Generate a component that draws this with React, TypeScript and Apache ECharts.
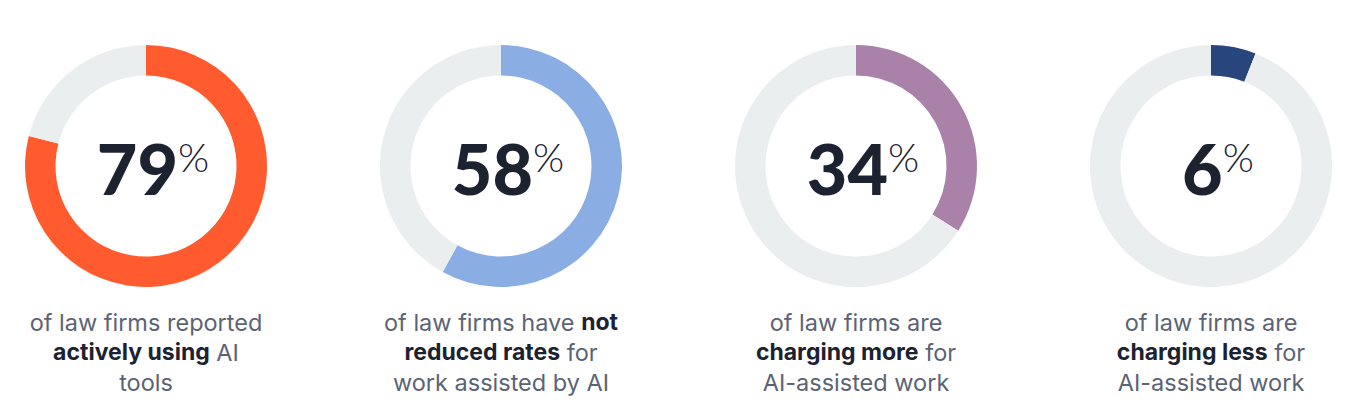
import React, { useEffect, useRef } from "react";
import * as echarts from "echarts";

const values = [79, 58, 34, 6];
const colors = ["#FF5B2E", "#8AAEE4", "#A981A9", "#28457C"];
const trackColor = "#EBEEEF";
const centersX = [146, 501, 856, 1211];
const descriptions: string[][][] = [
  [[["n", "of law firms reported"]], [["b", "actively using"], ["n", " AI"]], [["n", "tools"]]],
  [[["n", "of law firms have "], ["b", "not"]], [["b", "reduced rates"], ["n", " for"]], [["n", "work assisted by AI"]]],
  [[["n", "of law firms are"]], [["b", "charging more"], ["n", " for"]], [["n", "AI-assisted work"]]],
  [[["n", "of law firms are"]], [["b", "charging less"], ["n", " for"]], [["n", "AI-assisted work"]]],
];

const CY = 166;

export default function App() {
  const ref = useRef<HTMLDivElement>(null);
  useEffect(() => {
    if (!ref.current) return;
    const chart = echarts.init(ref.current, null, { renderer: "svg" });
    const series = values.map((v, i) => ({
      type: "pie",
      center: [centersX[i], CY],
      radius: [90.5, 121],
      startAngle: 90,
      clockwise: true,
      silent: true,
      label: { show: false },
      labelLine: { show: false },
      itemStyle: { borderWidth: 0 },
      data: [
        { value: v, itemStyle: { color: colors[i] } },
        { value: 100 - v, itemStyle: { color: trackColor } },
      ],
    }));
    const graphics: any[] = [];
    values.forEach((v, i) => {
      graphics.push({
        type: "text",
        x: centersX[i] + 7,
        y: CY + 2,
        style: {
          text: `{n|${v}}{p|%}`,
          textAlign: "center",
          textVerticalAlign: "middle",
          rich: {
            n: {
              fontFamily: "Lato",
              fontWeight: 900,
              fontSize: 70,
              lineHeight: 70,
              fill: "#1C2230",
            },
            p: {
              fontFamily: "Lato",
              fontWeight: 300,
              fontSize: 40,
              lineHeight: 46,
              fill: "#1C2230",
              verticalAlign: "top",
              padding: [4, 0, 0, 0],
            },
          },
        },
      });
      const txt = descriptions[i]
        .map((line) => line.map(([k, s]) => `{${k}|${s}}`).join(""))
        .join("\n");
      graphics.push({
        type: "text",
        x: centersX[i],
        y: 307,
        style: {
          text: txt,
          textAlign: "center",
          textVerticalAlign: "top",
          rich: {
            n: {
              fontFamily: "Inter",
              fontWeight: 400,
              fontSize: 23.5,
              lineHeight: 30,
              fill: "#5B6374",
            },
            b: {
              fontFamily: "Inter",
              fontWeight: 700,
              fontSize: 23,
              lineHeight: 30,
              fill: "#1C2230",
            },
          },
        },
      });
    });
    chart.setOption({
      animation: false,
      backgroundColor: "#FFFFFF",
      series,
      graphic: graphics,
    });
    return () => chart.dispose();
  }, []);
  return (
    <div
      ref={ref}
      style={{ position: "fixed", left: 0, top: 0, width: 1356, height: 416 }}
    />
  );
}
